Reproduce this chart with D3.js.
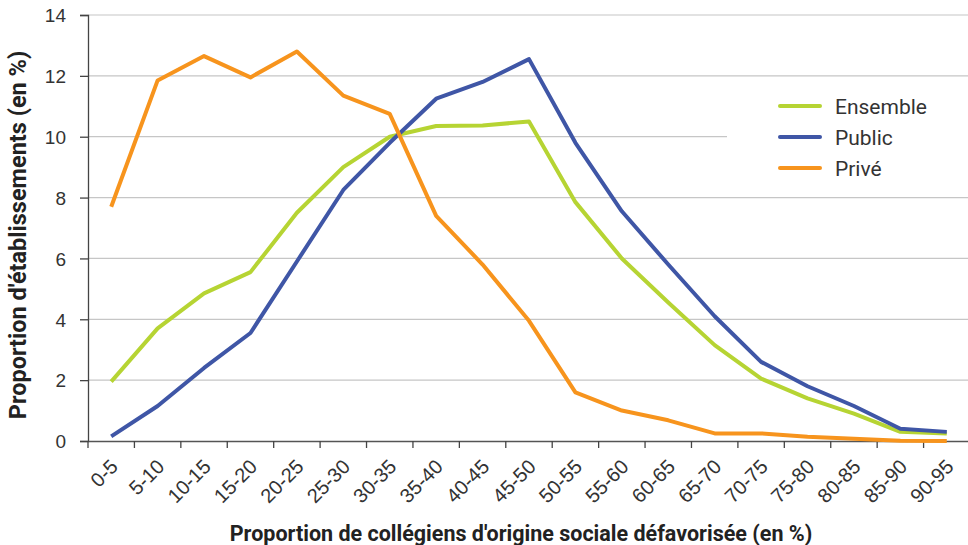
<!DOCTYPE html>
<html>
<head>
<meta charset="utf-8">
<script src="https://cdn.jsdelivr.net/npm/d3@7"></script>
<style>
  body { margin: 0; background: #fff; }
  svg { font-family: Roboto, "DejaVu Sans", sans-serif; }
</style>
</head>
<body>
<div id="chart"></div>
<script>
// categories (x axis)
var categories = ["0-5","5-10","10-15","15-20","20-25","25-30","30-35","35-40","40-45","45-50",
                  "50-55","55-60","60-65","65-70","70-75","75-80","80-85","85-90","90-95"];

// series values (en %)
var ensemble = [1.95, 3.7, 4.85, 5.55, 7.5, 9.0, 10.0, 10.35, 10.37, 10.5,
                7.85, 6.0, 4.55, 3.15, 2.05, 1.4, 0.9, 0.3, 0.25];
var publicVals = [0.15, 1.15, 2.4, 3.55, 5.9, 8.25, 9.8, 11.25, 11.8, 12.55,
                  9.8, 7.55, 5.8, 4.1, 2.6, 1.8, 1.15, 0.4, 0.3];
var prive = [7.7, 11.85, 12.65, 11.95, 12.8, 11.35, 10.75, 7.4, 5.8, 3.95,
             1.6, 1.0, 0.68, 0.25, 0.25, 0.14, 0.07, 0.01, 0.0];

var yTicks = [0, 2, 4, 6, 8, 10, 12, 14];

var series = [
  {name: "Ensemble", values: ensemble, color: "#b6d433"},
  {name: "Public", values: publicVals, color: "#3f56a6"},
  {name: "Privé", values: prive, color: "#f7941d"}
];

var W = 968, H = 545;
var margin = {top: 15, right: 0, bottom: 104, left: 88},
    width = 882,
    height = H - margin.top - margin.bottom;

var svg = d3.select("#chart").append("svg")
    .attr("width", W)
    .attr("height", H);

var g = svg.append("g")
    .attr("transform", `translate(${margin.left}, ${margin.top})`);

var x = d3.scaleBand().domain(categories).range([0, width]);
var y = d3.scaleLinear().domain([0, 14]).range([height, 0]);

// gridlines
g.append("g").selectAll("line")
    .data(yTicks.filter(d => d > 0))
    .enter().append("line")
    .attr("x1", 0).attr("x2", width)
    .attr("y1", d => y(d)).attr("y2", d => y(d))
    .attr("stroke", "#c6c6c6")
    .attr("stroke-width", 1.2);

// y axis
var yAxis = g.append("g")
    .call(d3.axisLeft(y).tickValues(yTicks).tickSize(8).tickPadding(14));
yAxis.select(".domain").attr("stroke", "#444").attr("stroke-width", 1.3);
yAxis.selectAll(".tick line").attr("stroke", "#444").attr("stroke-width", 1.3);
yAxis.selectAll("text").attr("font-size", 19).attr("fill", "#333").attr("dy", "0.36em");

// x axis - ticks between categories
var xAxis = g.append("g")
    .attr("transform", `translate(0, ${height})`)
    .call(d3.axisBottom(x).tickSize(0).tickFormat(""));
xAxis.select(".domain").attr("stroke", "#555").attr("stroke-width", 1.3);
xAxis.selectAll(".tick").remove();

xAxis.selectAll(".sep")
    .data(categories)
    .enter().append("line")
    .attr("class", "sep")
    .attr("x1", d => x(d)).attr("x2", d => x(d))
    .attr("y1", 0).attr("y2", 7)
    .attr("stroke", "#444").attr("stroke-width", 1.3);

xAxis.selectAll(".lbl")
    .data(categories)
    .enter().append("text")
    .attr("class", "lbl")
    .attr("text-anchor", "end")
    .attr("font-size", 20)
    .attr("fill", "#333")
    .attr("transform", d => `translate(${x(d) + x.bandwidth() / 2 + 8}, 27) rotate(-45)`)
    .text(d => d);

// lines
var line = d3.line()
    .x((d, i) => x(categories[i]) + x.bandwidth() / 2)
    .y(d => y(d));

g.selectAll(".series")
    .data(series)
    .enter().append("path")
    .attr("class", "series")
    .attr("fill", "none")
    .attr("stroke", d => d.color)
    .attr("stroke-width", 4)
    .attr("stroke-linejoin", "round")
    .attr("d", d => line(d.values));

// legend
var legend = svg.append("g").attr("transform", "translate(727, 88)");
legend.append("rect")
    .attr("width", 241).attr("height", 98)
    .attr("fill", "#fff");
var items = legend.selectAll(".item")
    .data(series)
    .enter().append("g")
    .attr("transform", (d, i) => `translate(53, ${18 + i * 31})`);
items.append("line")
    .attr("x1", 0).attr("x2", 40)
    .attr("stroke", d => d.color)
    .attr("stroke-width", 4)
    .attr("stroke-linecap", "round");
items.append("text")
    .attr("x", 55).attr("dy", "0.36em")
    .attr("font-size", 21)
    .attr("fill", "#333")
    .text(d => d.name);

// axis titles
svg.append("text")
    .attr("transform", "translate(26, 235) rotate(-90)")
    .attr("text-anchor", "middle")
    .attr("font-size", 23.5)
    .attr("font-weight", "bold")
    .attr("fill", "#222")
    .text("Proportion d'établissements (en %)");

svg.append("text")
    .attr("x", 521).attr("y", 541)
    .attr("text-anchor", "middle")
    .attr("font-size", 21.5)
    .attr("font-weight", "bold")
    .attr("fill", "#222")
    .text("Proportion de collégiens d'origine sociale défavorisée (en %)");
</script>
</body>
</html>
